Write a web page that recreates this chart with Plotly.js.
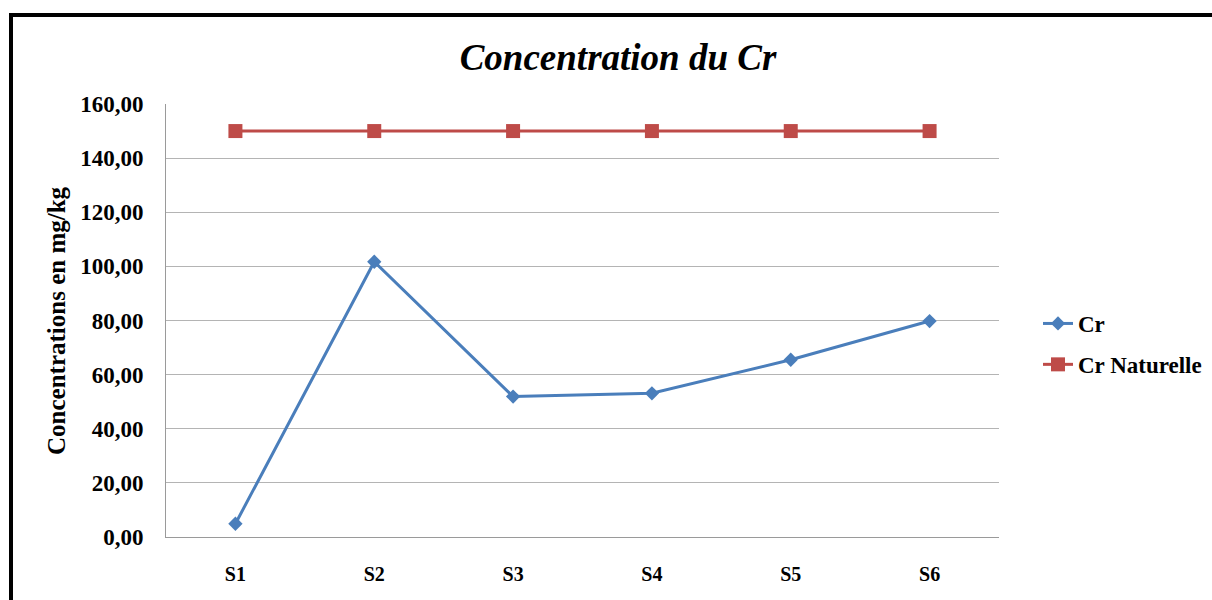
<!DOCTYPE html>
<html>
<head>
<meta charset="utf-8">
<script src="https://cdn.plot.ly/plotly-3.0.1.min.js"></script>
<style>
  html, body { margin: 0; padding: 0; background: #fff; }
  #chart { width: 1212px; height: 600px; }
</style>
</head>
<body>
<div id="chart"></div>
<script>
const categories = ["S1", "S2", "S3", "S4", "S5", "S6"];
const crValues = [4.9, 101.7, 51.9, 53.1, 65.5, 79.8];
const crNaturelle = [150, 150, 150, 150, 150, 150];
const yTicks = [0, 20, 40, 60, 80, 100, 120, 140, 160];

const W = 1212, H = 600;
const M = { l: 166, r: 213, t: 104, b: 63, autoexpand: false };
const pw = W - M.l - M.r, ph = H - M.t - M.b;
const px = x => (x - M.l) / pw;
const py = y => (H - M.b - y) / ph;

const serif = "Liberation Serif, Times New Roman, serif";

const traces = [
  {
    x: categories, y: crValues, name: "Cr", type: "scatter", mode: "lines+markers",
    line: { color: "#4A7EBB", width: 3 },
    marker: { symbol: "diamond", size: 11, color: "#4A7EBB" },
    legendgroup: "a"
  },
  {
    x: categories, y: crNaturelle, name: "Cr Naturelle", type: "scatter", mode: "lines+markers",
    line: { color: "#BE4B48", width: 3 },
    marker: { symbol: "square", size: 14, color: "#BE4B48" },
    legendgroup: "b"
  }
];

const layout = {
  width: W, height: H,
  margin: M,
  paper_bgcolor: "#fff", plot_bgcolor: "#fff",
  separators: ", ",
  font: { family: serif, color: "#000" },
  title: {
    text: "Concentration du Cr",
    font: { family: serif, size: 37, weight: "bold", style: "italic", color: "#000" },
    x: 618 / W, xref: "container", xanchor: "center",
    y: 1 - 57 / H, yref: "container", yanchor: "middle"
  },
  xaxis: {
    type: "category",
    range: [-0.5, 5.5],
    showgrid: false, zeroline: false,
    showline: true, linecolor: "#9A9A9A", linewidth: 1,
    ticks: "", ticklabelstandoff: 19,
    tickfont: { family: serif, size: 20, weight: "bold", color: "#000" },
    fixedrange: true
  },
  yaxis: {
    range: [0, 160],
    tickvals: yTicks,
    tickformat: ".2f",
    showgrid: true, gridcolor: "#B4B4B4", gridwidth: 1,
    zeroline: false,
    showline: true, linecolor: "#9A9A9A", linewidth: 1,
    ticks: "", ticklabelstandoff: 17,
    tickfont: { family: serif, size: 23, weight: "bold", color: "#000" },
    fixedrange: true
  },
  showlegend: true,
  legend: {
    x: px(1038), xanchor: "left",
    y: py(344), yanchor: "middle",
    traceorder: "grouped", tracegroupgap: 8,
    font: { family: serif, size: 23, weight: "bold", color: "#000" },
    bgcolor: "rgba(0,0,0,0)"
  },
  annotations: [
    {
      text: "Concentrations en mg/kg",
      xref: "paper", yref: "paper",
      x: px(56), y: py(321), xanchor: "center", yanchor: "middle",
      textangle: -90, showarrow: false,
      font: { family: serif, size: 25, weight: "bold", color: "#000" }
    }
  ],
  shapes: [
    { type: "line", xref: "paper", yref: "paper", x0: px(9), x1: px(1212), y0: py(15), y1: py(15), line: { color: "#000", width: 4 } },
    { type: "line", xref: "paper", yref: "paper", x0: px(11), x1: px(11), y0: py(13), y1: py(600), line: { color: "#000", width: 4 } }
  ]
};

Plotly.newPlot("chart", traces, layout, { displayModeBar: false, staticPlot: true });
</script>
</body>
</html>
